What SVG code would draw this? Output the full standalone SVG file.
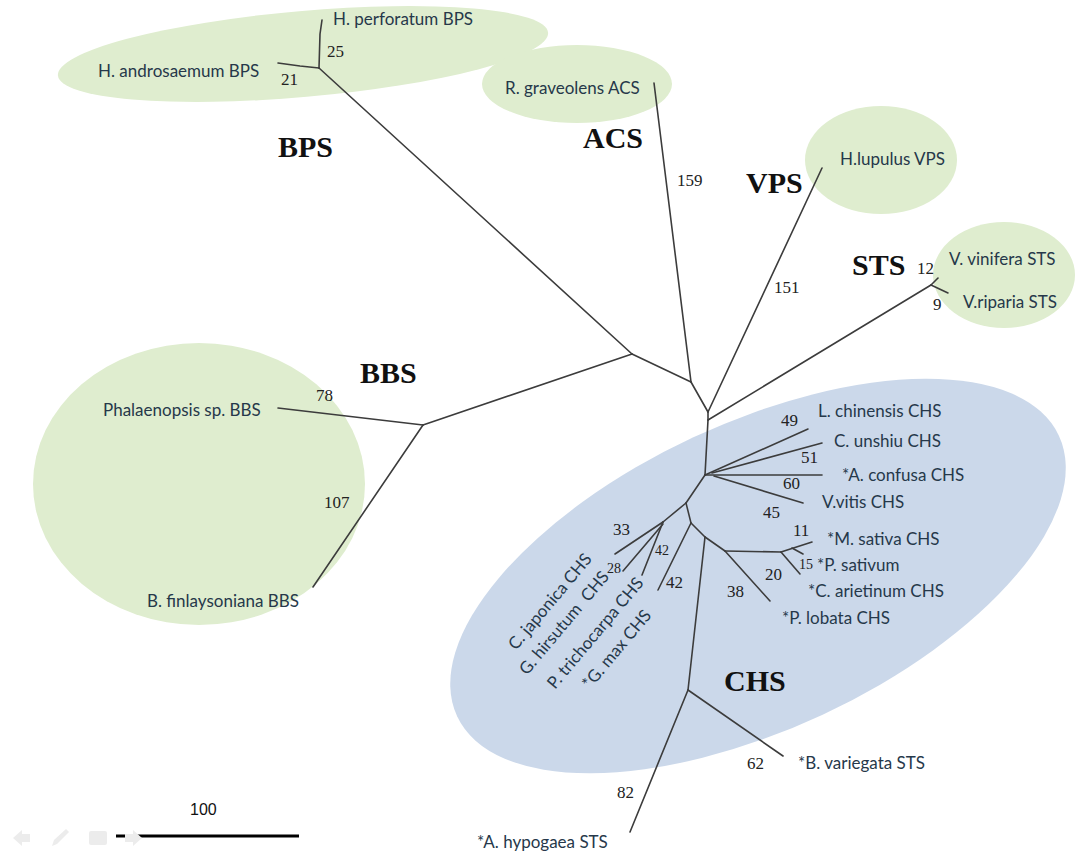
<svg xmlns="http://www.w3.org/2000/svg" width="1078" height="854" viewBox="0 0 1078 854">
<style>
.bg{fill:#ffffff}
.grp{fill:#dfedcf}
.blue{fill:#cbd8ea}
.br{fill:none;stroke:#3c3c3c;stroke-width:1.6;stroke-linecap:round;stroke-linejoin:round}
.lf{font-family:Lato,"Liberation Sans",sans-serif;font-size:17px;fill:#26384a}
.num{font-family:"Liberation Serif",serif;font-size:17px;fill:#222}
.sm{font-size:14px}
.big{font-family:"Liberation Serif",serif;font-size:30px;font-weight:bold;fill:#111}
.ico{fill:#ececec;stroke:none}
</style>
<rect class="bg" width="1078" height="854"/>
<g id="regions">
  <ellipse id="reg-bps" class="grp" cx="303" cy="54" rx="246" ry="43" transform="rotate(-5 303 54)"/>
  <ellipse id="reg-acs" class="grp" cx="577" cy="84" rx="95" ry="39"/>
  <ellipse id="reg-vps" class="grp" cx="881" cy="160" rx="76" ry="54"/>
  <ellipse id="reg-sts" class="grp" cx="1004" cy="275" rx="71" ry="53"/>
  <ellipse id="reg-bbs" class="grp" cx="199" cy="484" rx="166" ry="141"/>
  <ellipse id="reg-chs" class="blue" cx="758" cy="576" rx="332" ry="153" transform="rotate(-25 758 576)"/>
</g>
<g id="connectors">
  <path class="br" d="M708,420 L708,412"/>
  <path class="br" d="M708,412 L822,168"/>
  <path class="br" d="M708,412 L691,382"/>
  <path class="br" d="M691,382 L654,83"/>
  <path class="br" d="M691,382 L632,354"/>
  <path class="br" d="M632,354 L319,68"/>
  <path class="br" d="M632,354 L423,425"/>
  <path class="br" d="M319,68 L320,34 L322,20"/>
  <path class="br" d="M319,68 L300,66 L278,63"/>
  <path class="br" d="M423,425 L278,408"/>
  <path class="br" d="M423,425 L313,587"/>
  <path class="br" d="M708,420 L931,285"/>
  <path class="br" d="M931,285 L938,278"/>
  <path class="br" d="M931,285 L948,293"/>
  <path class="br" d="M708,420 L705,475"/>
  <path class="br" d="M705,475 L808,429"/>
  <path class="br" d="M712,473 L822,443"/>
  <path class="br" d="M705,475 L822,475"/>
  <path class="br" d="M714,476 L803,503"/>
  <path class="br" d="M705,475 L686,503"/>
  <path class="br" d="M686,503 L663,522"/>
  <path class="br" d="M686,503 L691,523"/>
  <path class="br" d="M663,522 L615,554"/>
  <path class="br" d="M663,524 L623,571"/>
  <path class="br" d="M663,522 L642,575"/>
  <path class="br" d="M691,523 L658,590"/>
  <path class="br" d="M691,523 L705,537"/>
  <path class="br" d="M705,537 L688,690"/>
  <path class="br" d="M705,537 L725,551"/>
  <path class="br" d="M725,551 L770,601"/>
  <path class="br" d="M725,551 L781,552"/>
  <path class="br" d="M781,552 L812,542"/>
  <path class="br" d="M792,548 L803,554"/>
  <path class="br" d="M781,552 L800,574"/>
  <path class="br" d="M688,690 L630,832"/>
  <path class="br" d="M688,690 L783,756"/>
</g>
<g id="group-labels">
  <text class="big" x="278" y="157">BPS</text>
  <text class="big" x="583" y="148">ACS</text>
  <text class="big" x="746" y="193">VPS</text>
  <text class="big" x="852" y="275">STS</text>
  <text class="big" x="360" y="383">BBS</text>
  <text class="big" x="724" y="691">CHS</text>
</g>
<g id="node-h-perforatum"><text class="lf" x="333" y="25">H. perforatum BPS</text><text class="num" x="327" y="57">25</text></g>
<g id="node-h-androsaemum"><text class="lf" x="98" y="77">H. androsaemum BPS</text><text class="num" x="281" y="85">21</text></g>
<g id="node-r-graveolens"><text class="lf" x="505" y="94">R. graveolens ACS</text><text class="num" x="677" y="186">159</text></g>
<g id="node-h-lupulus"><text class="lf" x="840" y="165">H.lupulus VPS</text><text class="num" x="774" y="293">151</text></g>
<g id="node-v-vinifera"><text class="lf" x="949" y="265">V. vinifera STS</text><text class="num" x="917" y="274">12</text></g>
<g id="node-v-riparia"><text class="lf" x="963" y="308">V.riparia STS</text><text class="num" x="933" y="310">9</text></g>
<g id="node-phalaenopsis"><text class="lf" x="103" y="416">Phalaenopsis sp. BBS</text><text class="num" x="316" y="401">78</text></g>
<g id="node-b-finlaysoniana"><text class="lf" x="147" y="607">B. finlaysoniana BBS</text><text class="num" x="324" y="508">107</text></g>
<g id="node-l-chinensis"><text class="lf" x="818" y="417">L. chinensis CHS</text><text class="num" x="781" y="426">49</text></g>
<g id="node-c-unshiu"><text class="lf" x="834" y="447">C. unshiu CHS</text><text class="num" x="801" y="463">51</text></g>
<g id="node-a-confusa"><text class="lf" x="842" y="481">*A. confusa CHS</text><text class="num" x="783" y="489">60</text></g>
<g id="node-v-vitis"><text class="lf" x="822" y="508">V.vitis CHS</text><text class="num" x="763" y="518">45</text></g>
<g id="node-m-sativa"><text class="lf" x="827" y="545">*M. sativa CHS</text><text class="num" x="793" y="536">11</text></g>
<g id="node-p-sativum"><text class="lf" x="817" y="571">*P. sativum</text><text class="num sm" x="799" y="569">15</text></g>
<g id="node-c-arietinum"><text class="lf" x="808" y="597">*C. arietinum CHS</text><text class="num" x="765" y="580">20</text></g>
<g id="node-p-lobata"><text class="lf" x="782" y="624">*P. lobata CHS</text><text class="num" x="727" y="597">38</text></g>
<g id="node-c-japonica"><text class="lf" transform="translate(516,651) rotate(-50)">C. japonica CHS</text><text class="num" x="613" y="535">33</text></g>
<g id="node-g-hirsutum"><text class="lf" transform="translate(527,676) rotate(-50)" xml:space="preserve">G. hirsutum  CHS</text><text class="num sm" x="607" y="573">28</text></g>
<g id="node-p-trichocarpa"><text class="lf" transform="translate(555,690) rotate(-50)">P. trichocarpa CHS</text><text class="num sm" x="655" y="555">42</text></g>
<g id="node-g-max"><text class="lf" transform="translate(590,690) rotate(-50)">*G. max CHS</text><text class="num" x="666" y="588">42</text></g>
<g id="node-b-variegata"><text class="lf" x="798" y="769">*B. variegata STS</text><text class="num" x="747" y="769">62</text></g>
<g id="node-a-hypogaea"><text class="lf" x="477" y="848">*A. hypogaea STS</text><text class="num" x="617" y="798">82</text></g>
<g id="scale-bar">
  <text x="190" y="815" style="font-family:'Liberation Sans',Arial,sans-serif;font-size:16px;fill:#111">100</text>
  <line x1="116" y1="836" x2="299" y2="836" stroke="#000" stroke-width="3"/>
</g>
<g id="controls">
  <path class="ico" d="M13,838 L22,830 L22,834 L30,834 L30,842 L22,842 L22,846 Z"/>
  <path class="ico" d="M52,846 L54,840 L66,829 L69,832 L57,844 Z"/>
  <rect class="ico" x="89" y="831" width="18" height="14" rx="2"/>
  <path class="ico" d="M142,838 L133,830 L133,834 L125,834 L125,842 L133,842 L133,846 Z"/>
</g>
</svg>
